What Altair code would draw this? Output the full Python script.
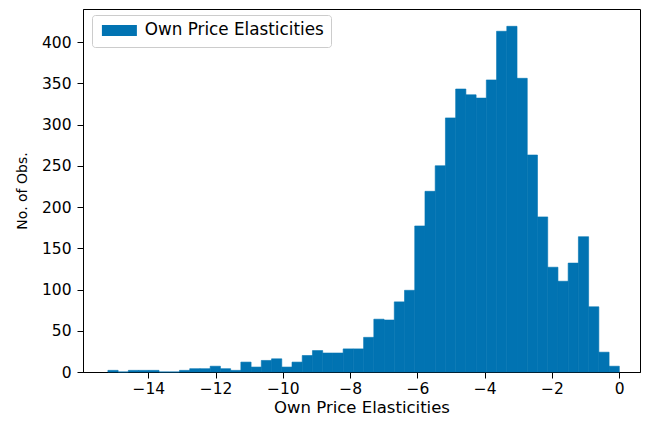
import altair as alt
import pandas as pd

# Histogram of own price elasticities: 50 equal bins
bin_min = -15.2
bin_width = 0.304
counts = [2, 0, 2, 2, 2, 0, 0, 2, 4, 4,
          7, 4, 2, 12, 6, 14, 16, 6, 12, 20,
          26, 23, 23, 28, 28, 42, 64, 63, 85, 99,
          177, 219, 250, 308, 343, 336, 332, 354, 413, 419,
          356, 263, 188, 127, 110, 132, 164, 79, 24, 7]
x_ticks = [-14, -12, -10, -8, -6, -4, -2, 0]
y_ticks = [0, 50, 100, 150, 200, 250, 300, 350, 400]
series_name = "Own Price Elasticities"

bin_start = [round(bin_min + bin_width * i, 4) for i in range(len(counts))]
bin_end = [round(bin_min + bin_width * (i + 1), 4) for i in range(len(counts))]

df = pd.DataFrame({
    "start": bin_start,
    "end": bin_end,
    "count": counts,
    "series": [series_name] * len(counts),
})

FONT = "DejaVu Sans"
BLUE = "#0173b2"

chart = alt.Chart(df).mark_rect(stroke=BLUE, strokeWidth=0.6).encode(
    x=alt.X("start:Q",
            scale=alt.Scale(domain=[-15.94, 0.615], nice=False, zero=False),
            axis=alt.Axis(values=x_ticks, title="Own Price Elasticities", grid=False,
                          tickSize=6, labelPadding=3, titlePadding=3,
                          labelFontSize=15.5, titleFontSize=16.5, titleFontWeight="normal",
                          labelFont=FONT, titleFont=FONT,
                          domainColor="black", tickColor="black",
                          labelColor="black", titleColor="black",
                          labelFlush=False)),
    x2="end:Q",
    y=alt.Y("count:Q",
            scale=alt.Scale(domain=[0, 440], nice=False),
            axis=alt.Axis(values=y_ticks, title="No. of Obs.", grid=False,
                          tickSize=6, labelPadding=6, titlePadding=12,
                          labelFontSize=15.5, titleFontSize=14, titleFontWeight="normal",
                          labelFont=FONT, titleFont=FONT,
                          domainColor="black", tickColor="black",
                          labelColor="black", titleColor="black",
                          labelFlush=False)),
    y2=alt.Y2Datum(0),
    color=alt.Color("series:N",
                    scale=alt.Scale(domain=[series_name], range=[BLUE]),
                    legend=alt.Legend(title=None, orient="none", legendX=9, legendY=6,
                                      symbolType="M-3.18,-1H3.18V1H-3.18Z",
                                      symbolSize=121, symbolStrokeWidth=0,
                                      symbolOffset=12,
                                      labelFont=FONT, labelFontSize=16.8, labelColor="black",
                                      labelOffset=17, labelLimit=400,
                                      padding=7, fillColor="white",
                                      strokeColor="#cccccc", cornerRadius=3)),
).properties(
    width=557,
    height=363,
    autosize=alt.AutoSizeParams(type="none"),
    padding={"left": 75, "top": 1, "right": 1, "bottom": 46},
).configure(
    background="white"
).configure_view(
    stroke="black", strokeWidth=1
)

chart.save("out.html", embed_options={"renderer": "svg", "actions": False})
